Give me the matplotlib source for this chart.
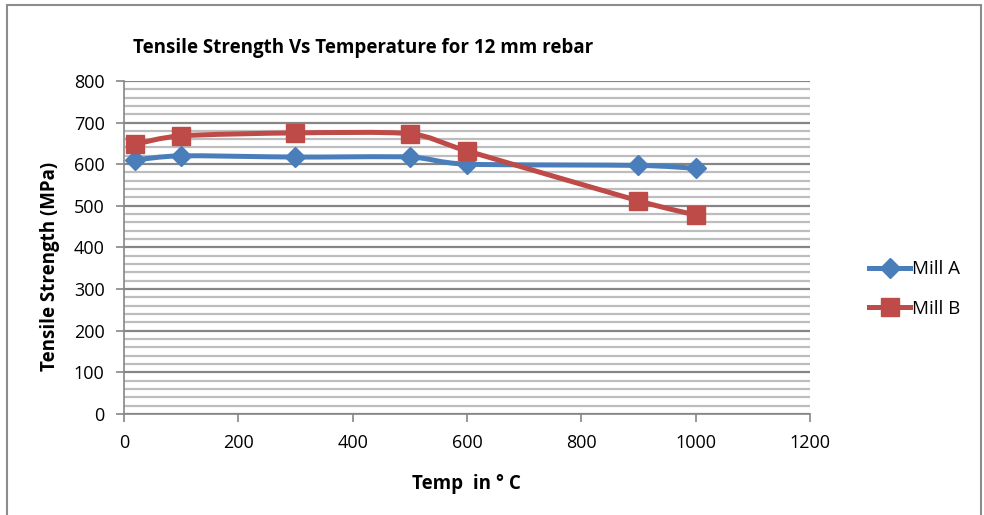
import matplotlib
matplotlib.use("Agg")
import matplotlib.pyplot as plt
import numpy as np
from matplotlib.path import Path
from matplotlib.patches import PathPatch, Rectangle
from matplotlib.lines import Line2D

plt.rcParams["font.family"] = ["Open Sans", "DejaVu Sans"]

temps = [20, 100, 300, 500, 600, 900, 1000]
mill_a = [610, 620, 617, 617, 600, 597, 590]
mill_b = [648, 668, 675, 673, 632, 512, 478]

BLUE = "#4a7ebb"
RED = "#be4b48"


def smooth_path(xs, ys, tension=0.13):
    # cubic Bezier through the points (spreadsheet "smoothed line")
    pts = np.column_stack([xs, ys]).astype(float)
    verts = [pts[0]]
    codes = [Path.MOVETO]
    n = len(pts)
    for i in range(n - 1):
        p0 = pts[i - 1] if i > 0 else pts[i]
        p1, p2 = pts[i], pts[i + 1]
        p3 = pts[i + 2] if i + 2 < n else pts[i + 1]
        c1 = p1 + (p2 - p0) * tension
        c2 = p2 - (p3 - p1) * tension
        verts += [c1, c2, p2]
        codes += [Path.CURVE4] * 3
    return Path(verts, codes)


fig = plt.figure(figsize=(9.84, 5.15), dpi=100)
fig.patches.append(Rectangle((0.007, -0.01), 0.99, 1.0, transform=fig.transFigure,
                             fill=False, edgecolor="#8c8c8c", linewidth=1.5))

ax = fig.add_axes([0.126, 0.196, 0.697, 0.647])
ax.set_xlim(0, 1200)
ax.set_ylim(0, 800)
ax.set_xticks(range(0, 1201, 200))
ax.set_yticks(range(0, 801, 100))
ax.set_yticks(range(0, 801, 20), minor=True)
ax.yaxis.grid(True, which="minor", color="#bdbdbd", linewidth=1.6)
ax.yaxis.grid(True, which="major", color="#868686", linewidth=1.6)
ax.set_axisbelow(True)
for side in ("top", "right"):
    ax.spines[side].set_visible(False)
for side in ("left", "bottom"):
    ax.spines[side].set_color("#868686")
    ax.spines[side].set_linewidth(1.2)
ax.tick_params(which="major", length=6, width=1.2, color="#868686",
               labelsize=13, pad=8)
ax.tick_params(which="minor", length=0)

for ys, col, mk, ms in ((mill_a, BLUE, "D", 10), (mill_b, RED, "s", 13)):
    ax.add_patch(PathPatch(smooth_path(temps, ys), facecolor="none",
                           edgecolor=col, linewidth=3.6, zorder=3))
    ax.plot(temps, ys, linestyle="none", marker=mk, markersize=ms,
            color=col, zorder=4, clip_on=False)

ax.set_xlabel("Temp  in ° C", fontsize=13.5, fontweight="bold", labelpad=16)
ax.set_ylabel("Tensile Strength (MPa)", fontsize=13.5, fontweight="bold")
ax.yaxis.set_label_coords(-0.094, 0.444)
fig.text(0.135, 0.907, "Tensile Strength Vs Temperature for 12 mm rebar",
         fontsize=13.5, fontweight="bold", ha="left", va="center")

handles = [Line2D([], [], color=BLUE, marker="D", markersize=10, linewidth=3.6),
           Line2D([], [], color=RED, marker="s", markersize=13, linewidth=3.6)]
fig.legend(handles, ["Mill A", "Mill B"], loc="center left",
           bbox_to_anchor=(0.866, 0.439), frameon=False, fontsize=13.5,
           handlelength=2.2, handletextpad=0.1, labelspacing=1.15)

fig.savefig("out.png", dpi=100)
